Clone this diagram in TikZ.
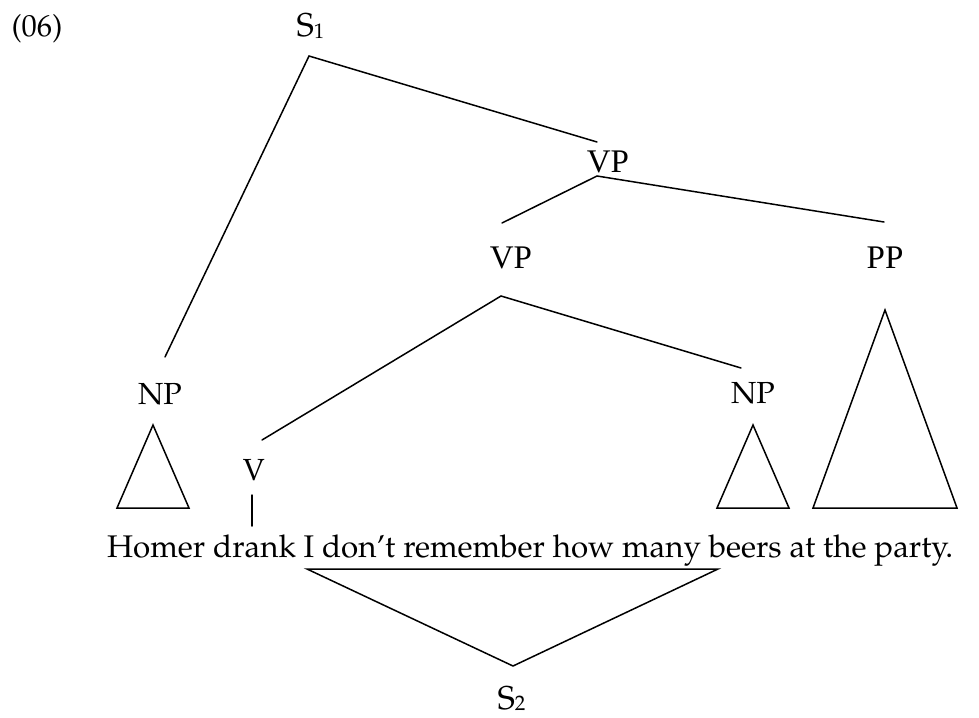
\documentclass[tikz,border=0pt]{standalone}
\usepackage[T1,TU]{fontenc}
\usepackage{fontspec}
\newfontfamily\timesfont{Liberation Serif}
\newcommand\palfont{\fontencoding{T1}\fontfamily{ppl}\selectfont}
\tikzset{
  edge/.style={line width=1.5pt, line cap=round, line join=miter},
  pal/.style={inner sep=0pt, anchor=base, font=\palfont\fontsize{30.5}{36}\selectfont},
  sentstyle/.style={inner sep=0pt, anchor=base west, font=\palfont\fontsize{31.3}{36}\selectfont},
  palS/.style={inner sep=0pt, anchor=base, font=\palfont\fontsize{33}{40}\selectfont},
  tim/.style={inner sep=0pt, anchor=base, font=\timesfont\fontsize{33}{40}\selectfont}
}
\newcommand\subone[1]{\raisebox{-1.5pt}{\fontsize{21}{24}\selectfont #1}}
\begin{document}
\begin{tikzpicture}[x=1pt,y=-1pt]
\useasboundingbox (0,0) rectangle (979,717);
% labels
\node[pal] (ex) at (37,37) {(06)};
\node[palS] (s1) at (310.5,37) {S\subone{1}};
\node[tim] (vp1) at (608,172) {VP};
\node[tim] (vp2) at (511,268) {VP};
\node[tim] (pp) at (885,268) {PP};
\node[pal] (npl) at (160,404) {NP};
\node[pal] (npr) at (753,403) {NP};
\node[pal] (v) at (254,480) {V};
\node[sentstyle] (sent) at (107,557) {Homer drank I don't remember how many beers at the party.};
\node[palS] (s2) at (511.5,709) {S\subone{2}};
% coordinates
\coordinate (s1b) at (309,56);
\coordinate (nplt) at (165,357);
\coordinate (vp1t) at (597,142);
\coordinate (vp1b) at (597,176);
\coordinate (vp2t) at (502,223);
\coordinate (ppt) at (884,222);
\coordinate (vp2b) at (501,296);
\coordinate (vt) at (262,440);
\coordinate (nprt) at (741,368);
\coordinate (vb) at (252,495);
\coordinate (wt) at (252,526);
\coordinate (ta1) at (153,425);
\coordinate (ta2) at (117,508);
\coordinate (ta3) at (189,508);
\coordinate (tb1) at (753,425);
\coordinate (tb2) at (717,508);
\coordinate (tb3) at (789,508);
\coordinate (tc1) at (885,310);
\coordinate (tc2) at (813,508);
\coordinate (tc3) at (957,508);
\coordinate (sl) at (307,569);
\coordinate (sr) at (718,569);
\coordinate (sa) at (513,666);
% edges
\draw[edge] (nplt) -- (s1b) -- (vp1t);
\draw[edge] (vp2t) -- (vp1b) -- (ppt);
\draw[edge] (vt) -- (vp2b) -- (nprt);
\draw[edge] (vb) -- (wt);
\draw[edge] (ta1) -- (ta2) -- (ta3) -- cycle;
\draw[edge] (tb1) -- (tb2) -- (tb3) -- cycle;
\draw[edge] (tc1) -- (tc2) -- (tc3) -- cycle;
\draw[edge] (sl) -- (sr) -- (sa) -- cycle;
\end{tikzpicture}
\end{document}
